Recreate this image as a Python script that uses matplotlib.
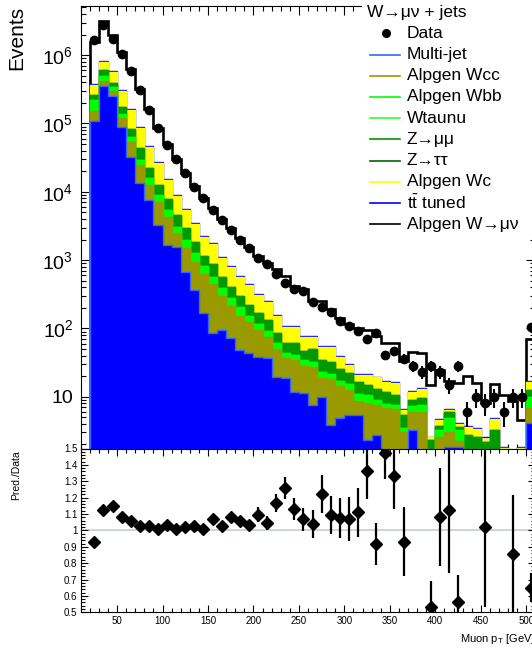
import numpy as np
import matplotlib
matplotlib.use("Agg")
import matplotlib.pyplot as plt
from matplotlib.lines import Line2D
from matplotlib.patches import Rectangle
from matplotlib.ticker import LogLocator, MultipleLocator, FuncFormatter, NullFormatter

plt.rcParams['font.family'] = ['Liberation Sans', 'DejaVu Sans']
plt.rcParams['mathtext.fontset'] = 'custom'
plt.rcParams['mathtext.rm'] = 'Liberation Sans'
plt.rcParams['mathtext.it'] = 'Liberation Sans:italic'
plt.rcParams['mathtext.bf'] = 'Liberation Sans:bold'

# muon pT bins of 10 GeV, the last one carries the overflow
edges = np.arange(20, 520, 10)
centers = 0.5 * (edges[:-1] + edges[1:])

data = np.array([1670000, 2770000, 1730000, 1040000, 593000, 309000, 157000, 85700, 48400, 29900,
                 18700, 11900, 8000, 5400, 3870, 2760, 1970, 1490, 1060, 868,
                 625, 462, 373, 356, 246, 208, 176, 130, 108, 92,
                 69, 85, 41, 46, 36, 28, 23, 28, 23, 15,
                 28, 6, 10, 8, 10, 6, 10, 10, 106], dtype=float)

multijet = np.array([109000, 354000, 253000, 88800, 32300, 13450, 7580, 3260, 1663, 1555,
                     669, 365, 168, 86, 95, 72, 48, 44, 38, 37,
                     19.4, 18.8, 11.7, 11.3, 7.6, 9.9, 3.85, 4.9, 5.4, 5.4,
                     2.3, 2.75, 1.0, 1.0, 0.8, 3.25, 0.8, 0.3, 0.8, 1.83,
                     1.83, 0.6, 0.6, 0.5, 0.6, 0.4, 0.3, 0.4, 4.1])
wcc = np.array([43000, 65000, 46000, 31500, 21300, 11250, 4990, 3830, 2610, 935,
                834, 573, 458, 361, 203, 141, 104, 80, 57, 38,
                30.5, 18.1, 22.7, 16.8, 19.6, 8.9, 14.3, 9.4, 7.1, 3.25,
                5.8, 4.8, 5.8, 5.6, 2.24, 2.7, 5.2, 0.5, 1.77, 1.21,
                0.42, 0.6, 0.6, 0.5, 0.6, 0.4, 0.3, 0.4, 2.7])
wbb = np.array([69000, 77000, 43000, 17400, 9800, 4500, 3350, 1880, 1140, 560,
                467, 332, 193, 118, 92, 66, 54, 28, 21, 17,
                11.2, 6.7, 6.4, 6.3, 5.0, 4.2, 3.3, 2.7, 2.8, 2.3,
                2.5, 1.4, 1.0, 1.0, 0.44, 1.34, 1.6, 0.5, 0.68, 1.84,
                1.0, 0.4, 0.4, 0.4, 0.4, 0.3, 0.2, 0.3, 3.1])
wtaunu = np.zeros(49)
zmumu = np.array([40000, 111000, 50000, 36700, 19600, 14600, 6380, 3600, 2430, 1520,
                  980, 570, 329, 312, 175, 125, 92, 68, 52, 41,
                  24.5, 17.5, 20.3, 12.3, 17.7, 11.4, 10.7, 8.4, 6.9, 5.45,
                  4.2, 4.0, 3.9, 3.0, 1.9, 1.64, 2.0, 1.0, 0.47, 1.09,
                  0.35, 1.15, 0.97, 0.8, 1.65, 0.4, 0.2, 0.4, 2.6])
ztautau = np.zeros(49)
wc = np.array([105000, 188000, 175000, 124600, 74600, 42100, 23000, 13830, 7040, 4110,
               2460, 1540, 1032, 843, 508, 388, 267, 212, 140, 110,
               66, 44, 44, 28.1, 24.9, 19.0, 21.2, 12.7, 6.9, 4.4,
               6.0, 6.4, 4.7, 5.3, 1.0, 2.75, 3.4, 0.25, 0.84, 0.42,
               0.38, 0.85, 0.8, 0.2, 1.46, 0.3, 0.2, 0.3, 3.9])
ttbar = np.array([7000, 16000, 11000, 6000, 3200, 1700, 900, 530, 300, 175,
                  110, 68, 44, 34, 22, 16, 11, 8.6, 6.2, 4.9,
                  3.0, 2.1, 2.1, 1.5, 1.5, 1.1, 1.1, 0.8, 0.6, 0.45,
                  0.45, 0.4, 0.35, 0.33, 0.15, 0.25, 0.28, 0.06, 0.1, 0.13,
                  0.08, 0.07, 0.07, 0.2, 0.1, 0.05, 0.03, 0.05, 0.35])

# prediction / data per bin
ratio = np.array([0.932, 1.126, 1.151, 1.082, 1.055, 1.028, 1.024, 1.010, 1.035, 1.010,
                  1.020, 1.024, 1.010, 1.071, 1.028, 1.082, 1.059, 1.035, 1.096, 1.045,
                  1.167, 1.259, 1.131, 1.069, 1.041, 1.224, 1.096, 1.076, 1.069, 1.110,
                  1.361, 0.918, 1.474, 1.330, 0.932, 1.60, 1.90, 0.530, 1.082, 1.126,
                  0.560, 3.40, 1.60, 1.020, 1.56, 1.78, 0.857, 0.45, 0.650])
ratio_err = np.array([0.002, 0.002, 0.002, 0.002, 0.003, 0.003, 0.004, 0.005, 0.006, 0.007,
                      0.009, 0.011, 0.013, 0.018, 0.02, 0.022, 0.03, 0.03, 0.045, 0.04,
                      0.056, 0.07, 0.066, 0.07, 0.085, 0.117, 0.116, 0.12, 0.135, 0.15,
                      0.17, 0.13, 0.16, 0.2, 0.21, 0.3, 0.4, 0.16, 0.3, 0.385,
                      0.17, 1.4, 0.5, 0.49, 0.5, 0.75, 0.36, 0.15, 0.09])

labels = ['Multi-jet', 'Alpgen Wcc', 'Alpgen Wbb', 'Wtaunu', r'Z→μμ', r'Z→ττ',
          'Alpgen Wc', r'$\mathrm{t\bar{t}}$ tuned', r'Alpgen W→μν']
fills = ['#0000ff', '#999900', '#00ff00', '#33ff33', '#009900', '#006600', '#ffff00', None]
lines = ['#3366ff', '#999900', '#00ff00', '#33ff33', '#009900', '#006600', '#ffff00', '#0000ff', 'black']

W, H = 532, 649
fig = plt.figure(figsize=(W / 100, H / 100), dpi=100)


def fx(px):
    return px / W


def fy(py):
    return 1 - py / H


x0, x1 = 80.7, 535.35
ax = fig.add_axes([fx(x0), fy(448.5), (x1 - x0) / W, (448.5 - 6) / H])
rax = fig.add_axes([fx(x0), fy(612.3), (x1 - x0) / W, (612.3 - 448.5) / H])

# ---- upper pad: stacked backgrounds, signal outline and data
stack = [multijet, wcc, wbb, wtaunu, zmumu, ztautau, wc, ttbar]
cum = np.cumsum(stack, axis=0)
pred = ratio * data
floor = 1e-2

ax.stairs(pred, edges, baseline=floor, color='black', lw=1.9, zorder=1)
n = len(stack)
for k in range(n - 1, -1, -1):
    if fills[k] is None:
        ax.stairs(cum[k], edges, baseline=floor, color=lines[k], lw=1.0, zorder=2)
    else:
        ax.stairs(cum[k], edges, baseline=floor, fill=True, facecolor=fills[k],
                  edgecolor=lines[k], lw=1.0, zorder=3 + (n - k))

ax.errorbar(centers, data, yerr=np.sqrt(data), fmt='o', ms=6, color='black',
            elinewidth=1.5, capsize=0, zorder=20)

ax.set_yscale('log')
ax.set_xlim(10, 510)
ax.set_ylim(1.744, 5.25e6)
ax.xaxis.set_major_locator(MultipleLocator(50))
ax.xaxis.set_minor_locator(MultipleLocator(10))
ax.yaxis.set_major_locator(LogLocator(base=10))
ax.yaxis.set_minor_locator(LogLocator(base=10, subs=np.arange(2, 10)))
ax.yaxis.set_minor_formatter(NullFormatter())
ax.yaxis.set_major_formatter(FuncFormatter(
    lambda v, _: '10' if abs(v - 10) < 1e-6 else r'$10^{%d}$' % round(np.log10(v))))
ax.tick_params(which='both', direction='in', top=True, right=True, labelbottom=False,
               width=0.8)
ax.tick_params(which='major', length=6.5)
ax.tick_params(which='minor', length=3.6)
ax.tick_params(axis='y', which='major', labelsize=14, pad=5.3)
for s in ax.spines.values():
    s.set_linewidth(0.8)

# ---- lower pad: ratio
rax.axhline(1.0, color='#c4ccd4', lw=1.2, zorder=1)
shown = (ratio >= 0.5) & (ratio <= 1.5)
rax.errorbar(centers[shown], ratio[shown], yerr=ratio_err[shown], fmt='D', ms=5.8,
             color='black', elinewidth=1.6, capsize=0, zorder=5)
rax.set_xlim(10, 510)
rax.set_ylim(0.5, 1.5)
rax.xaxis.set_major_locator(MultipleLocator(50))
rax.xaxis.set_minor_locator(MultipleLocator(10))
rax.yaxis.set_major_locator(MultipleLocator(0.1))
rax.yaxis.set_minor_locator(MultipleLocator(0.02))
rax.yaxis.set_major_formatter(FuncFormatter(lambda v, _: '%g' % round(v, 1)))
rax.tick_params(which='both', direction='in', top=True, right=True, width=0.8,
                labelsize=7, pad=2.5)
rax.tick_params(which='major', length=5)
rax.tick_params(which='minor', length=2.6)
for s in rax.spines.values():
    s.set_linewidth(0.8)

# axis titles
fig.text(fx(17), fy(6), 'Events', rotation=90, ha='center', va='top', fontsize=15)
fig.text(fx(16), fy(450), 'Pred./Data', rotation=90, ha='center', va='top', fontsize=7.5)
fig.text(fx(x1), fy(639), r'Muon $\mathrm{p_{T}}$ [GeV]', ha='right', va='center',
         fontsize=8)

# ---- legend box
fig.add_artist(Rectangle((fx(362), fy(236)), (W + 10 - 362) / W, 236 / H + 0.01,
                         transform=fig.transFigure, facecolor='white',
                         edgecolor='none', zorder=5))
fig.text(fx(367), fy(12.7), 'W→μν + jets', ha='left', va='center', fontsize=12.5,
         zorder=6)
row0, dy = 33.3, 21.2
fig.add_artist(Line2D([fx(386)], [fy(row0)], marker='o', ms=5.5, color='black',
                      ls='none', transform=fig.transFigure, zorder=6))
fig.text(fx(406.7), fy(row0), 'Data', ha='left', va='center', fontsize=12.5, zorder=6)
for i, (lab, col) in enumerate(zip(labels, lines)):
    yy = row0 + dy * (i + 1)
    fig.add_artist(Line2D([fx(370), fx(400)], [fy(yy), fy(yy)], color=col, lw=1.2,
                          transform=fig.transFigure, zorder=6))
    fig.text(fx(406.7), fy(yy), lab, ha='left', va='center', fontsize=12.5, zorder=6)

fig.savefig('out.png', dpi=100)
